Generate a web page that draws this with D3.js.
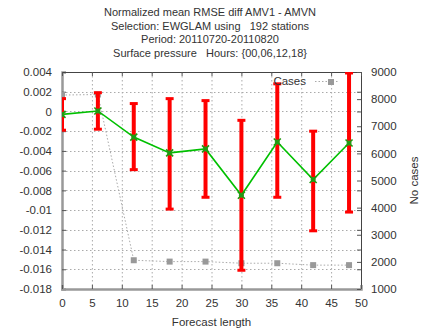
<!DOCTYPE html>
<html>
<head>
<meta charset="UTF-8" />
<script src="https://d3js.org/d3.v7.min.js"></script>
<style>
  body { margin: 0; background: #fff; }
  svg { display: block; font-family: "Liberation Sans", Arial, sans-serif; }
  .lbl { font-size: 11.5px; fill: #333; }
  .ttl { font-size: 11px; fill: #333; }
</style>
</head>
<body>
<div id="chart"></div>
<script>
  const width = 421, height = 329;
  const marginTop = 72, marginRight = 60, marginBottom = 40, marginLeft = 62;

  const titleLines = [
    "Normalized mean RMSE diff AMV1 - AMVN",
    "Selection: EWGLAM using   192 stations",
    "Period: 20110720-20110820",
    "Surface pressure   Hours: {00,06,12,18}"
  ];

  // forecast lengths
  const leads = [0, 6, 12, 18, 24, 30, 36, 42, 48];
  const meanDiff = [-0.0003, 0.00005, -0.0026, -0.0042, -0.0038, -0.0085, -0.0031, -0.0069, -0.0032];
  const errLow = [-0.0019, -0.0018, -0.0059, -0.0099, -0.0087, -0.0161, -0.0087, -0.0121, -0.0102];
  const errHigh = [0.0013, 0.0019, 0.0008, 0.0013, 0.0011, -0.0009, 0.0028, -0.0020, 0.0039];
  const cases = [8150, 8170, 2060, 2010, 2010, 1950, 1950, 1880, 1880];

  const xTicks = [0, 5, 10, 15, 20, 25, 30, 35, 40, 45, 50];
  const yTicks = d3.range(-0.018, 0.0041, 0.002);
  const y2Ticks = [1000, 2000, 3000, 4000, 5000, 6000, 7000, 8000, 9000];

  const svg = d3.select("#chart").append("svg")
    .attr("width", width).attr("height", height);

  const x = d3.scaleLinear().domain([0, 50]).range([marginLeft, width - marginRight]);
  const y = d3.scaleLinear().domain([-0.018, 0.004]).range([height - marginBottom, marginTop]);
  const y2 = d3.scaleLinear().domain([1000, 9000]).range([height - marginBottom, marginTop]);

  // titles
  svg.append("g").selectAll("text").data(titleLines).join("text")
    .attr("class", "ttl")
    .attr("x", 210)
    .attr("y", (d, i) => 16 + i * 13.7)
    .attr("text-anchor", "middle")
    .style("white-space", "pre")
    .text(d => d);

  // grid
  const grid = svg.append("g").attr("stroke", "#aaa").attr("stroke-dasharray", "1.5,2.5").attr("stroke-width", 1);
  grid.selectAll(".gx").data(xTicks.slice(1, -1)).join("line")
    .attr("x1", d => x(d) + 0.5).attr("x2", d => x(d) + 0.5)
    .attr("y1", y.range()[1]).attr("y2", y.range()[0]);
  grid.selectAll(".gy").data(yTicks.slice(1, -1)).join("line")
    .attr("x1", x.range()[0]).attr("x2", x.range()[1])
    .attr("y1", d => Math.round(y(d)) + 0.5).attr("y2", d => Math.round(y(d)) + 0.5);

  // axes with inward ticks
  const fmtY = d => {
    const v = Math.round(d * 1000) / 1000;
    return v === 0 ? "0" : String(v);
  };
  const leftAx = svg.append("g").attr("transform", `translate(${marginLeft},0)`)
    .call(d3.axisLeft(y).tickValues(yTicks).tickFormat(fmtY).tickSize(-4).tickPadding(10));
  const rightAx = svg.append("g").attr("transform", `translate(${width - marginRight},0)`)
    .call(d3.axisRight(y2).tickValues(y2Ticks).tickFormat(d3.format("d")).tickSize(-4).tickPadding(10));
  const bottomAx = svg.append("g").attr("transform", `translate(0,${height - marginBottom})`)
    .call(d3.axisBottom(x).tickValues(xTicks).tickSize(-4).tickPadding(10));
  const topAx = svg.append("g").attr("transform", `translate(0,${marginTop})`)
    .call(d3.axisTop(x).tickValues(xTicks).tickSize(-4).tickFormat(""));
  // mirrored y1 ticks on right border
  svg.append("g").attr("transform", `translate(${width - marginRight},0)`)
    .call(d3.axisRight(y).tickValues(yTicks).tickSize(-4).tickFormat(""))
    .call(g => g.select(".domain").remove())
    .selectAll("line").attr("stroke", "#555");

  [leftAx, rightAx, bottomAx, topAx].forEach(g => {
    g.selectAll("text").attr("class", "lbl").attr("font-size", null).attr("font-family", null);
    g.selectAll(".tick line").attr("stroke", "#555");
  });
  topAx.select(".domain").attr("stroke", "#444");
  rightAx.select(".domain").attr("stroke", "#444");
  leftAx.select(".domain").attr("stroke", "#999").attr("stroke-width", 2.5);
  bottomAx.select(".domain").attr("stroke", "#999").attr("stroke-width", 2.5);

  // axis titles
  svg.append("text").attr("class", "lbl")
    .attr("x", (x.range()[0] + x.range()[1]) / 2).attr("y", 326)
    .attr("text-anchor", "middle").text("Forecast length");
  svg.append("text").attr("class", "lbl")
    .attr("transform", `translate(418,${(marginTop + height - marginBottom) / 2}) rotate(-90)`)
    .attr("text-anchor", "middle").text("No cases");

  svg.append("clipPath").attr("id", "clip").append("rect")
    .attr("x", x.range()[0]).attr("y", marginTop)
    .attr("width", x.range()[1] - x.range()[0]).attr("height", y.range()[0] - marginTop);

  const plot = svg.append("g").attr("clip-path", "url(#clip)");

  // cases line
  plot.append("path")
    .datum(leads.map((d, i) => [d, cases[i]]))
    .attr("fill", "none").attr("stroke", "#aaa").attr("stroke-width", 1)
    .attr("stroke-dasharray", "1.5,2")
    .attr("d", d3.line().x(d => x(d[0])).y(d => y2(d[1])));
  plot.selectAll(".case").data(leads).join("rect")
    .attr("x", d => x(d) - 3).attr("y", (d, i) => y2(cases[i]) - 3)
    .attr("width", 6).attr("height", 6).attr("fill", "#999");

  // error bars
  const eb = plot.append("g").attr("stroke", "#ff0000");
  eb.selectAll(".bar").data(leads).join("line")
    .attr("x1", d => x(d)).attr("x2", d => x(d))
    .attr("y1", (d, i) => y(errLow[i])).attr("y2", (d, i) => y(errHigh[i]))
    .attr("stroke-width", 4);
  eb.selectAll(".capl").data(leads).join("line")
    .attr("x1", d => x(d) - 4).attr("x2", d => x(d) + 4)
    .attr("y1", (d, i) => y(errLow[i])).attr("y2", (d, i) => y(errLow[i]))
    .attr("stroke-width", 3);
  eb.selectAll(".caph").data(leads).join("line")
    .attr("x1", d => x(d) - 4).attr("x2", d => x(d) + 4)
    .attr("y1", (d, i) => y(errHigh[i])).attr("y2", (d, i) => y(errHigh[i]))
    .attr("stroke-width", 3);

  // mean line
  plot.append("path")
    .datum(leads.map((d, i) => [d, meanDiff[i]]))
    .attr("fill", "none").attr("stroke", "#00c000").attr("stroke-width", 1.6)
    .attr("d", d3.line().x(d => x(d[0])).y(d => y(d[1])));
  const pts = plot.selectAll(".pt").data(leads).join("g")
    .attr("transform", (d, i) => `translate(${x(d)},${y(meanDiff[i])})`);
  pts.append("circle").attr("r", 2.5).attr("fill", "#2f9a20");
  pts.append("path").attr("d", "M-3.5,-3.5L3.5,3.5M-3.5,3.5L3.5,-3.5").attr("stroke", "#1f9a10").attr("stroke-width", 1.6);

  // legend
  const lg = svg.append("g");
  lg.append("text").attr("class", "lbl").attr("x", 306).attr("y", 85).attr("text-anchor", "end").text("Cases");
  lg.append("line").attr("x1", 315).attr("x2", 338).attr("y1", 81.5).attr("y2", 81.5)
    .attr("stroke", "#aaa").attr("stroke-dasharray", "1.5,2");
  lg.append("rect").attr("x", 328).attr("y", 79).attr("width", 6).attr("height", 6).attr("fill", "#999");
</script>
</body>
</html>
